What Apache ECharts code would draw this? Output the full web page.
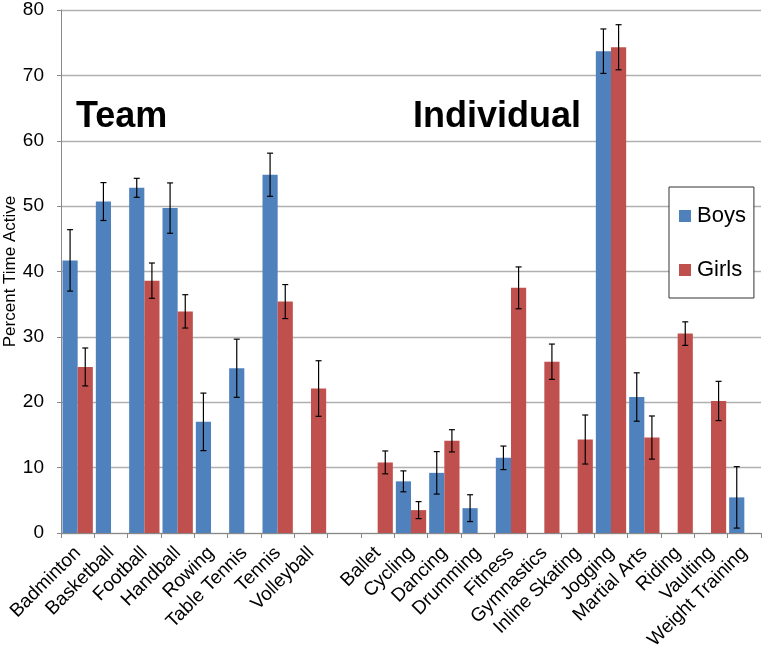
<!DOCTYPE html>
<html>
<head>
<meta charset="utf-8">
<script src="https://cdn.jsdelivr.net/npm/echarts@6/dist/echarts.min.js"></script>
<style>html,body{margin:0;padding:0;background:#fff}#c{width:765px;height:648px}</style>
</head>
<body>
<div id="c"></div>
<script>
var categories = ['Badminton','Basketball','Football','Handball','Rowing','Table Tennis','Tennis','Volleyball','',
  'Ballet','Cycling','Dancing','Drumming','Fitness','Gymnastics','Inline Skating','Jogging','Martial Arts','Riding','Vaulting','Weight Training'];
var boys = [41.7, 50.7, 52.8, 49.7, 17.0, 25.2, 54.8, null, null,
  null, 7.9, 9.2, 3.8, 11.5, null, null, 73.7, 20.8, null, null, 5.45];
var boysErr = [4.7, 2.9, 1.45, 3.85, 4.4, 4.45, 3.3, null, null,
  null, 1.6, 3.25, 2.05, 1.8, null, null, 3.4, 3.7, null, null, 4.7];
var girls = [25.4, null, 38.6, 33.9, null, null, 35.4, 22.1, null,
  10.8, 3.5, 14.1, null, 37.5, 26.2, 14.3, 74.3, 14.6, 30.5, 20.2, null];
var girlsErr = [2.9, null, 2.7, 2.55, null, null, 2.6, 4.25, null,
  1.75, 1.3, 1.7, null, 3.2, 2.7, 3.75, 3.45, 3.3, 1.8, 3.0, null];
var yTicks = [0, 10, 20, 30, 40, 50, 60, 70, 80];

var FONT = 'Liberation Sans, Arial, sans-serif';
var catGap = 0.09;
function errData(vals, errs) {
  var out = [];
  for (var i = 0; i < vals.length; i++) {
    if (vals[i] != null && errs[i] != null) out.push([i, vals[i], errs[i]]);
  }
  return out;
}
function errSeries(name, vals, errs, side) {
  return {
    type: 'custom',
    name: name + ' err',
    data: errData(vals, errs),
    z: 10,
    silent: true,
    renderItem: function (params, api) {
      var i = api.value(0), v = api.value(1), e = api.value(2);
      var band = api.size([1, 0])[0];
      var bw = band * (1 - catGap) / 2;
      var off = side * bw / 2;
      var top = api.coord([i, v + e]);
      var bot = api.coord([i, v - e]);
      var x = top[0] + off;
      var cap = 3;
      var st = { stroke: '#000', lineWidth: 1.2 };
      return {
        type: 'group',
        children: [
          { type: 'line', shape: { x1: x, y1: top[1], x2: x, y2: bot[1] }, style: st },
          { type: 'line', shape: { x1: x - cap, y1: top[1], x2: x + cap, y2: top[1] }, style: st },
          { type: 'line', shape: { x1: x - cap, y1: bot[1], x2: x + cap, y2: bot[1] }, style: st }
        ]
      };
    }
  };
}

var chart = echarts.init(document.getElementById('c'), null, { renderer: 'canvas' });
chart.setOption({
  animation: false,
  textStyle: { fontFamily: FONT },
  grid: { left: 61, right: 4, top: 10, bottom: 115, containLabel: false, outerBoundsMode: 'none' },
  legend: {
    data: ['Boys', 'Girls'],
    orient: 'vertical',
    left: 669,
    top: 187,
    itemWidth: 12,
    itemHeight: 12,
    itemGap: 32,
    icon: 'rect',
    padding: [18, 8, 17, 10],
    borderColor: '#333',
    borderWidth: 1,
    backgroundColor: '#fff',
    textStyle: { fontSize: 22, color: '#000', fontFamily: FONT, padding: [0, 0, 0, 1] }
  },
  graphic: [
    { type: 'text', left: 76, top: 99, style: { text: 'Team', fontSize: 36, fontWeight: 'bold', fill: '#000', fontFamily: FONT } },
    { type: 'text', left: 413, top: 99, style: { text: 'Individual', fontSize: 36, fontWeight: 'bold', fill: '#000', fontFamily: FONT } }
  ],
  xAxis: {
    type: 'category',
    data: categories,
    boundaryGap: true,
    axisLine: { lineStyle: { color: '#888', width: 1 } },
    axisTick: { show: true, length: 5, interval: 0, alignWithLabel: false, lineStyle: { color: '#888' } },
    axisLabel: { interval: 0, rotate: 45, fontSize: 19, color: '#000', margin: 17, fontFamily: FONT }
  },
  yAxis: {
    type: 'value',
    min: yTicks[0],
    max: yTicks[yTicks.length - 1],
    interval: 10,
    name: 'Percent Time Active',
    nameLocation: 'middle',
    nameGap: 42,
    nameMoveOverlap: false,
    nameRotate: 90,
    nameTextStyle: { fontSize: 17, color: '#000', fontFamily: FONT },
    axisLine: { show: true, lineStyle: { color: '#888', width: 1 } },
    axisTick: { show: true, length: 4, lineStyle: { color: '#888' } },
    axisLabel: { fontSize: 19, color: '#000', margin: 17 },
    splitLine: { lineStyle: { color: '#b0b0b0', width: 1.3 } }
  },
  series: [
    { type: 'bar', name: 'Boys', data: boys, barGap: '0%', barCategoryGap: (catGap * 100) + '%', itemStyle: { color: '#4F81BD' } },
    { type: 'bar', name: 'Girls', data: girls, barGap: '0%', barCategoryGap: (catGap * 100) + '%', itemStyle: { color: '#C0504D' } },
    errSeries('Boys', boys, boysErr, -1),
    errSeries('Girls', girls, girlsErr, 1)
  ]
});
</script>
</body>
</html>
